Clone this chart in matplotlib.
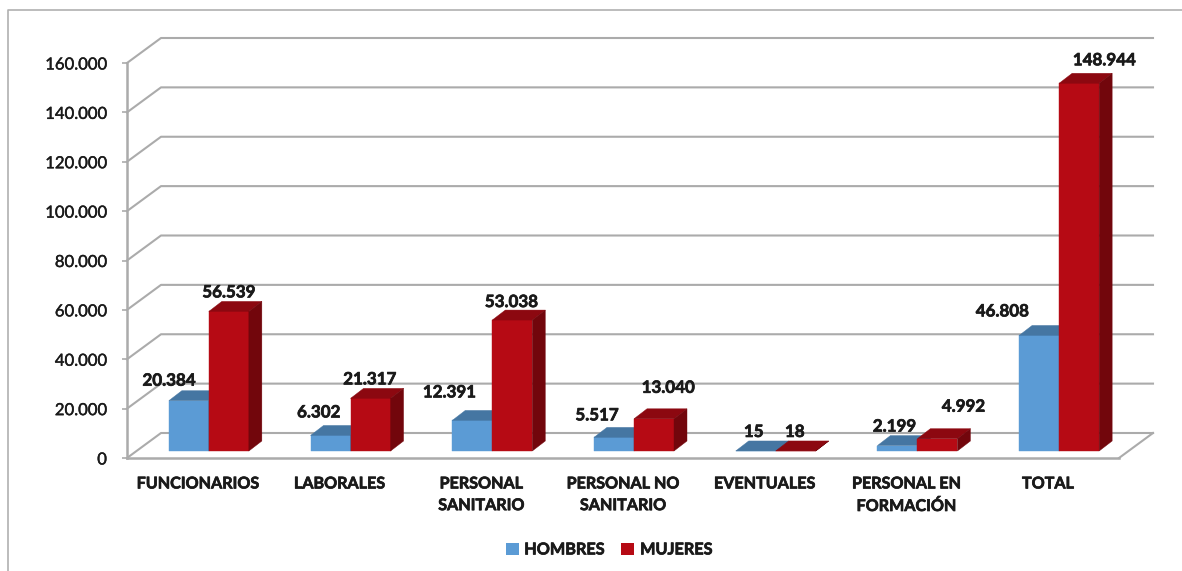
import matplotlib
matplotlib.use('Agg')
from matplotlib import pyplot as plt
from matplotlib import patheffects as pe
from matplotlib.lines import Line2D
from matplotlib.patches import Patch, Polygon
from matplotlib.transforms import Affine2D

categories = ['FUNCIONARIOS', 'LABORALES', 'PERSONAL\nSANITARIO', 'PERSONAL NO\nSANITARIO',
              'EVENTUALES', 'PERSONAL EN\nFORMACIÓN', 'TOTAL']
hombres = [20384, 6302, 12391, 5517, 15, 2199, 46808]
mujeres = [56539, 21317, 53038, 13040, 18, 4992, 148944]
y_ticks = [0, 20000, 40000, 60000, 80000, 100000, 120000, 140000, 160000]
y_labels = ['0', '20.000', '40.000', '60.000', '80.000', '100.000', '120.000', '140.000', '160.000']

# label offsets from (category centre, value), in pixels
h_offsets = [(-29, 27), (-21, 30), (-32, 35), (-26, 29), (-11, 26), (-12, 26), (-46, 31)]
m_offsets = [(31, 26), (30, 26), (30, 25), (45, 38), (30, 26), (57, 39), (56, 30)]

W, H = 1182, 571
plt.rcParams['font.family'] = ['Lato', 'DejaVu Sans']
fig = plt.figure(figsize=(W / 100, H / 100), dpi=100)
ax = fig.add_axes([127 / W, 1 - 458 / H, (1119 - 127) / W, (458 - 63) / H])
ax.set_xlim(-0.5, 6.5)
ax.set_ylim(0, 160000)
ax.patch.set_visible(False)
for s in ax.spines.values():
    s.set_visible(False)

GRID = '#ABABAB'
DEPTH_X, DEPTH_Y = 34, 25
BAR_W = 40 / ((1119 - 127) / 7)
BAR_X, BAR_Y = 11, 7      # bars sit this far into the floor
BAR_DX, BAR_DY = 13, 10   # bar depth
heavy = [pe.withStroke(linewidth=0.5, foreground='#1A1A1A')]
semi = [pe.withStroke(linewidth=0.3, foreground='#1A1A1A')]


def shifted(dx, dy):
    return ax.transData + Affine2D().translate(dx, dy)


def draw_bar(x0, value, front, top, side, z):
    x1 = x0 + BAR_W
    t = shifted(BAR_X, BAR_Y)
    t2 = shifted(BAR_X + BAR_DX, BAR_Y + BAR_DY)
    # the depth faces mix both transforms, so go through display coords
    a = t.transform([(x0, 0), (x1, 0), (x1, value), (x0, value)])
    b = t2.transform([(x0, 0), (x1, 0), (x1, value), (x0, value)])
    ax.add_patch(Polygon(a, closed=True, transform=None, fc=front, ec=front, lw=0.3, zorder=z, clip_on=False))
    ax.add_patch(Polygon([a[3], a[2], b[2], b[3]], closed=True, transform=None, fc=top, ec=top, lw=0.3, zorder=z, clip_on=False))
    ax.add_patch(Polygon([a[1], b[1], b[2], a[2]], closed=True, transform=None, fc=side, ec=side, lw=0.3, zorder=z, clip_on=False))


# walls and floor
back = shifted(DEPTH_X, DEPTH_Y)
for v in y_ticks:
    p0 = ax.transData.transform((-0.5, v))
    p1 = back.transform((-0.5, v))
    p2 = back.transform((6.5, v))
    ax.add_line(Line2D([p0[0], p1[0], p2[0]], [p0[1], p1[1], p2[1]], transform=None,
                       color=GRID, lw=1.5, zorder=1, clip_on=False))
p0 = ax.transData.transform((6.5, 0))
p1 = back.transform((6.5, 0))
ax.add_line(Line2D([p0[0], p1[0]], [p0[1], p1[1]], transform=None, color=GRID, lw=1.5, zorder=1, clip_on=False))
ax.plot([-0.5, 6.5], [0, 0], color=GRID, lw=1.8, zorder=1, clip_on=False)
ax.plot([-0.5, -0.5], [0, 160000], color=GRID, lw=1.8, zorder=1, clip_on=False)

for i in range(len(categories)):
    draw_bar(i - BAR_W, hombres[i], '#5B9BD5', '#4576A2', '#3E6A92', 2 + i)
    draw_bar(i, mujeres[i], '#B60A14', '#8C0810', '#72060C', 2.5 + i)
    ax.annotate(format(hombres[i], ',').replace(',', '.'), (i, hombres[i]), xytext=h_offsets[i],
                textcoords='offset pixels', ha='center', va='center', fontsize=12.2, fontweight='bold',
                color='#1A1A1A', zorder=20, annotation_clip=False, path_effects=heavy)
    ax.annotate(format(mujeres[i], ',').replace(',', '.'), (i, mujeres[i]), xytext=m_offsets[i],
                textcoords='offset pixels', ha='center', va='center', fontsize=12.2, fontweight='bold',
                color='#1A1A1A', zorder=20, annotation_clip=False, path_effects=heavy)

ax.set_yticks(y_ticks)
ax.set_yticklabels(y_labels, fontsize=12, color='#1A1A1A', path_effects=semi)
ax.set_xticks(range(len(categories)))
ax.set_xticklabels(categories, fontsize=11.6, fontweight='bold', color='#1A1A1A', linespacing=1.7, path_effects=heavy)
ax.tick_params(axis='y', length=3.5, width=1.2, color=GRID, pad=11)
ax.tick_params(axis='x', length=0, pad=14)

handles = [Patch(fc='#5B9BD5', label='HOMBRES'), Patch(fc='#B60A14', label='MUJERES')]
leg = fig.legend(handles=handles, loc='center', bbox_to_anchor=(609 / W, 1 - 550 / H), ncol=2, frameon=False,
                 prop={'size': 11.7, 'weight': 'bold'}, handlelength=0.8, handleheight=0.8, handletextpad=0.35,
                 columnspacing=1.05, labelcolor='#1A1A1A')
for t in leg.get_texts():
    t.set_path_effects(heavy)

# outer frame, only top and left show
fig.add_artist(Line2D([8 / W, 8 / W, 1], [0, 1 - 10 / H, 1 - 10 / H], color='#B0B0B0', lw=1.2))

fig.savefig('out.png', dpi=100)
